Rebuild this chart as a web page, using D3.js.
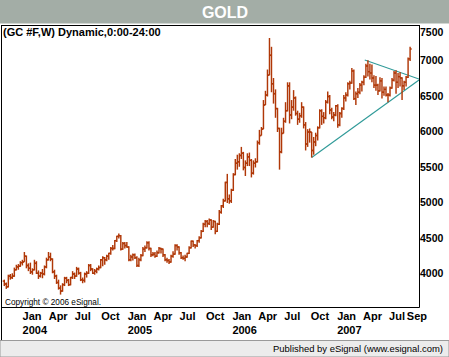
<!DOCTYPE html>
<html><head><meta charset="utf-8">
<script src="https://cdn.jsdelivr.net/npm/d3@7"></script>
<style>
html,body{margin:0;padding:0;background:#fff;overflow:hidden}
svg{display:block}
text{font-family:"Liberation Sans",Arial,Helvetica,sans-serif}
</style></head><body>
<svg id="chart" width="449" height="357"></svg>
<script>
// ---------------- DATA ----------------
const title = "GOLD";
const subtitle = "(GC #F,W) Dynamic,0:00-24:00";
const copyright = "Copyright \u00A9 2006 eSignal.";
const publisher = "Published by eSignal (www.esignal.com)";
const firstWeek = "2003-10-31";   // weekly bars, Friday dates
const opens = [
3900,3860,3820,3970,3950,3970,4060,4100,4110,4160,
4170,4250,4120,4080,4030,4060,4150,4010,3970,4010,
4000,4100,4200,4240,4210,4030,3970,3880,3800,3760,
3850,3940,3910,3850,3950,4000,3970,4070,4010,3920,
3910,4000,4010,4120,4070,4010,4040,4070,4090,4200,
4230,4200,4250,4290,4360,4360,4470,4530,4540,4350,
4430,4400,4380,4200,4240,4270,4230,4120,4200,4260,
4350,4370,4440,4360,4270,4280,4250,4300,4360,4350,
4270,4200,4190,4170,4250,4280,4400,4380,4300,4230,
4220,4240,4290,4370,4460,4410,4400,4470,4510,4600,
4700,4740,4710,4760,4660,4740,4600,4700,4870,4960,
5030,5290,5060,5030,5180,5400,5560,5580,5670,5700,
5500,5560,5650,5600,5420,5560,5580,5850,5950,6040,
6380,6520,6800,7080,6680,6540,6330,6050,5720,5980,
6150,6300,6650,6240,6350,6480,6260,6180,6230,6350,
6100,5830,6000,6000,5740,5860,5950,6060,6300,6220,
6200,6420,6500,6310,6210,6240,6370,6100,6260,6330,
6480,6520,6680,6690,6860,6470,6540,6560,6660,6700,
6770,6930,6850,6830,6760,6660,6660,6580,6720,6560,
6600,6520,6520,6620,6730,6830,6700,6780,6760,6650,
6700,6770,7030];
const highs = [
3920,3880,3990,4000,4010,4090,4130,4140,4180,4200,
4310,4260,4150,4160,4080,4200,4180,4050,4030,4070,
4120,4230,4310,4300,4220,4060,3990,3920,3840,3870,
3960,3960,3930,3960,4040,4020,4100,4090,4030,3950,
4020,4040,4140,4140,4080,4070,4090,4120,4210,4250,
4240,4270,4300,4380,4410,4480,4540,4570,4550,4450,
4450,4450,4390,4270,4290,4290,4250,4230,4280,4380,
4400,4460,4460,4370,4310,4310,4330,4380,4370,4360,
4280,4230,4210,4270,4320,4420,4420,4390,4310,4260,
4270,4300,4390,4470,4470,4420,4480,4530,4620,4720,
4760,4760,4780,4770,4760,4750,4720,4900,4970,5060,
5300,5410,5120,5200,5420,5620,5680,5700,5790,5720,
5600,5700,5710,5620,5600,5630,5880,6030,6070,6450,
6580,6880,7324,7200,6760,6600,6340,6060,6060,6200,
6420,6700,6700,6450,6590,6500,6300,6270,6420,6360,
6140,6040,6050,6000,5930,5990,6080,6320,6320,6280,
6450,6570,6520,6340,6280,6380,6390,6280,6350,6520,
6560,6700,6720,6900,6880,6570,6620,6690,6720,6800,
6960,7010,6960,6950,6800,6790,6680,6770,6760,6640,
6640,6550,6640,6760,6860,6870,6830,6840,6770,6720,
6790,7050,7200];
const lows = [
3830,3790,3810,3920,3930,3960,4050,4060,4100,4120,
4170,4080,4040,4000,3990,4050,4000,3930,3950,3940,
3980,4080,4190,4180,4010,3930,3860,3780,3710,3750,
3830,3870,3830,3840,3930,3930,3960,3990,3900,3870,
3880,3950,4000,4040,4000,3990,4010,4050,4080,4110,
4130,4180,4200,4270,4330,4350,4450,4500,4330,4340,
4360,4370,4180,4180,4190,4210,4100,4100,4180,4250,
4310,4360,4330,4240,4250,4230,4240,4290,4290,4240,
4180,4160,4140,4160,4230,4270,4330,4270,4210,4200,
4180,4230,4280,4360,4380,4360,4380,4440,4500,4590,
4660,4660,4690,4620,4650,4560,4590,4690,4850,4930,
5020,5000,4990,5000,5170,5390,5470,5510,5620,5460,
5380,5520,5520,5360,5400,5500,5570,5820,5950,6040,
6380,6500,6800,6560,6400,6200,6000,5470,5700,5980,
6130,6290,6120,6180,6300,6230,6100,6130,6200,6050,
5740,5790,5850,5640,5680,5800,5880,6050,6100,6120,
6180,6400,6250,6180,6150,6220,6060,6080,6200,6310,
6430,6500,6600,6680,6450,6380,6480,6530,6570,6660,
6760,6780,6740,6700,6620,6580,6520,6570,6470,6510,
6500,6420,6500,6610,6710,6540,6620,6640,6450,6590,
6640,6760,7000];
const closes = [
3860,3820,3970,3950,3970,4060,4100,4110,4160,4170,
4250,4120,4080,4030,4060,4150,4010,3970,4010,4000,
4100,4200,4240,4210,4030,3970,3880,3800,3760,3850,
3940,3910,3850,3950,4000,3970,4070,4010,3920,3910,
4000,4010,4120,4070,4010,4040,4070,4090,4200,4230,
4200,4250,4290,4360,4360,4470,4530,4540,4350,4430,
4400,4380,4200,4240,4270,4230,4120,4200,4260,4350,
4370,4440,4360,4270,4280,4250,4300,4360,4350,4270,
4200,4190,4170,4250,4280,4400,4380,4300,4230,4220,
4240,4290,4370,4460,4410,4400,4470,4510,4600,4700,
4740,4710,4760,4660,4740,4600,4700,4870,4960,5030,
5290,5060,5030,5180,5400,5560,5580,5670,5700,5500,
5560,5650,5600,5420,5560,5580,5850,5950,6040,6380,
6520,6800,7080,6680,6540,6330,6050,5720,5980,6150,
6300,6650,6240,6350,6480,6260,6180,6230,6350,6100,
5830,6000,6000,5740,5860,5950,6060,6300,6220,6200,
6420,6500,6310,6210,6240,6370,6100,6260,6330,6480,
6520,6680,6690,6860,6470,6540,6560,6660,6700,6770,
6930,6850,6830,6760,6660,6660,6580,6720,6560,6600,
6520,6520,6620,6730,6830,6700,6780,6760,6650,6700,
6770,7030,7170];
const yTicks = [4000,4500,5000,5500,6000,6500,7000,7500];
const xTickMonths = ["2004-01-01","2004-04-01","2004-07-01","2004-10-01",
  "2005-01-01","2005-04-01","2005-07-01","2005-10-01",
  "2006-01-01","2006-04-01","2006-07-01","2006-10-01",
  "2007-01-01","2007-04-01","2007-07-01","2007-09-01"];
const trendUpper = [["2007-04-09",7014],["2007-10-15",6746]];
const trendLower = [["2006-10-06",5640],["2007-10-15",6732]];
const xDomain = ["2003-10-23","2007-10-15"];
const yDomain = [3535, 7507];

// ---------------- DRAW ----------------
const parse = d3.timeParse("%Y-%m-%d");
const svg = d3.select("#chart");
const W = 449, H = 357;
const P = {left: 2, right: 419, top: 25, bottom: 307};

const start = parse(firstWeek);
const dates = d3.timeFriday.range(start, d3.timeDay.offset(start, 7 * closes.length)).slice(0, closes.length);
const bars = dates.map((d, i) => ({date: d, o: opens[i], h: highs[i], l: lows[i], c: closes[i]}));

const x = d3.scaleTime().domain(xDomain.map(parse)).range([P.left, P.right]);
const y = d3.scaleLinear().domain(yDomain).range([P.bottom, P.top]);

svg.append("rect").attr("width", W).attr("height", H).attr("fill", "#fff");

// title bar
svg.append("rect").attr("x", 0).attr("y", 0).attr("width", W).attr("height", 23.5).attr("fill", "#a3ada6");
svg.append("text").attr("x", 225).attr("y", 18).attr("text-anchor", "middle")
  .attr("font-size", 16).attr("font-weight", "bold").attr("fill", "#fff").text(title);

// footer
svg.append("rect").attr("x", 0).attr("y", 340.5).attr("width", W).attr("height", 16.5)
  .attr("fill", "#ececec").attr("stroke", "#9a9a9a").attr("stroke-width", 1);
svg.append("text").attr("x", 443).attr("y", 352).attr("text-anchor", "end")
  .attr("font-size", 9.5).attr("fill", "#000")
  .attr("textLength", 170).attr("lengthAdjust", "spacingAndGlyphs").text(publisher);

// clip
svg.append("defs").append("clipPath").attr("id", "plotclip").append("rect")
  .attr("x", P.left).attr("y", P.top).attr("width", P.right - P.left).attr("height", P.bottom - P.top);

const plot = svg.append("g").attr("clip-path", "url(#plotclip)");

// trendlines
const tl = d3.line().x(d => x(parse(d[0]))).y(d => y(d[1]));
[trendUpper, trendLower].forEach(t => {
  plot.append("path").attr("d", tl(t)).attr("fill", "none")
    .attr("stroke", "#2f9a98").attr("stroke-width", 1.1);
});

// OHLC bars
const barColor = "#b03808";
const g = plot.append("g").attr("stroke", barColor).attr("stroke-width", 1.45);
bars.forEach(b => {
  const cx = x(b.date);
  g.append("line").attr("x1", cx).attr("x2", cx).attr("y1", y(b.h)).attr("y2", y(b.l));
  g.append("line").attr("x1", cx - 1.6).attr("x2", cx).attr("y1", y(b.o)).attr("y2", y(b.o));
  g.append("line").attr("x1", cx).attr("x2", cx + 1.6).attr("y1", y(b.c)).attr("y2", y(b.c));
});

// frame
const frame = svg.append("g").attr("stroke", "#000").attr("stroke-width", 1).attr("fill", "none");
frame.append("line").attr("x1", 1.5).attr("x2", 1.5).attr("y1", 25).attr("y2", 340);
frame.append("line").attr("x1", 1.5).attr("x2", 419.5).attr("y1", 25.5).attr("y2", 25.5);
frame.append("line").attr("x1", 419.5).attr("x2", 419.5).attr("y1", 25).attr("y2", 307.5);
frame.append("line").attr("x1", 1.5).attr("x2", 419.5).attr("y1", 307.5).attr("y2", 307.5);

// subtitle and copyright
svg.append("text").attr("x", 3).attr("y", 36).attr("font-size", 11).attr("font-weight", "bold")
  .attr("fill", "#000").text(subtitle);
svg.append("text").attr("x", 5).attr("y", 304.5).attr("font-size", 9.5).attr("fill", "#000")
  .attr("textLength", 96).attr("lengthAdjust", "spacingAndGlyphs").text(copyright);

// y axis (right)
const yAxis = svg.append("g").attr("transform", `translate(${P.right},0)`)
  .call(d3.axisRight(y).tickValues(yTicks).tickSize(0).tickPadding(1).tickFormat(d3.format("d")));
yAxis.select(".domain").remove();
yAxis.selectAll("text").attr("font-size", 10.5).attr("font-weight", "bold").attr("fill", "#000")
  .attr("font-family", '"Liberation Sans",Arial,sans-serif');
yAxis.selectAll(".tick").attr("transform", d => `translate(0,${Math.max(y(d), 33)})`);

// x axis (months + years)
const months = xTickMonths.map(parse);
const xAxis = svg.append("g").attr("transform", `translate(0,${P.bottom})`)
  .call(d3.axisBottom(x).tickValues(months).tickSize(0).tickFormat(d3.timeFormat("%b")));
xAxis.select(".domain").remove();
xAxis.selectAll("text").attr("y", 13).attr("dy", null).attr("text-anchor", "start")
  .attr("font-size", 11).attr("font-weight", "bold").attr("fill", "#000")
  .attr("font-family", '"Liberation Sans",Arial,sans-serif');
xAxis.selectAll(".tick").filter(d => d.getMonth() === 0).append("text")
  .attr("y", 27).attr("text-anchor", "start").attr("font-size", 11).attr("font-weight", "bold")
  .attr("fill", "#000").attr("font-family", '"Liberation Sans",Arial,sans-serif')
  .text(d => d3.timeFormat("%Y")(d));
</script>
</body></html>
